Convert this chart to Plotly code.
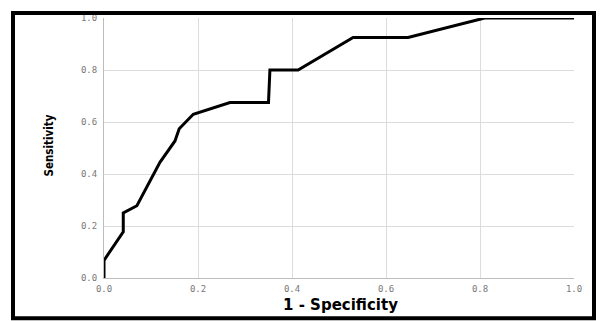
import plotly.graph_objects as go

fpr = [0.0, 0.0, 0.041, 0.041, 0.07, 0.119, 0.151, 0.16, 0.19, 0.268, 0.35, 0.353, 0.413, 0.53, 0.647, 0.81, 1.0]
tpr = [0.0, 0.068, 0.178, 0.25, 0.278, 0.445, 0.527, 0.574, 0.63, 0.675, 0.675, 0.80, 0.80, 0.925, 0.925, 1.0, 1.0]
tick_vals = [0.0, 0.2, 0.4, 0.6, 0.8, 1.0]
tick_text = ["0.0", "0.2", "0.4", "0.6", "0.8", "1.0"]

# page body has an 8px margin, so the figure is drawn offset by (8, 8)
OFF = 8
W, H = 604 - OFF, 321 - OFF
L, R, T, B = 104 - OFF, 30, 13 - OFF, 43
pw, ph = W - L - R, H - T - B

def px(x):
    return (x - OFF - L) / pw

def py(y):
    return (H - B - (y - OFF)) / ph

fig = go.Figure()
fig.add_trace(go.Scatter(x=fpr, y=tpr, mode="lines",
                         line=dict(color="black", width=3), hoverinfo="skip",
                         cliponaxis=False))

tickfont = dict(family="DejaVu Sans Mono", size=9, color="#777777")
fig.update_xaxes(range=[0, 1], tickvals=tick_vals, ticktext=tick_text,
                 showgrid=True, gridcolor="#dcdcdc", gridwidth=1,
                 showline=True, linecolor="#bdbdbd", linewidth=1, mirror=False,
                 zeroline=False, ticks="", tickfont=tickfont, ticklabelstandoff=2)
fig.update_yaxes(range=[0, 1], tickvals=tick_vals, ticktext=tick_text,
                 showgrid=True, gridcolor="#dcdcdc", gridwidth=1,
                 showline=True, linecolor="#bdbdbd", linewidth=1, mirror=False,
                 zeroline=False, ticks="", tickfont=tickfont, ticklabelstandoff=4)

fig.add_annotation(text="<b>Sensitivity</b>", xref="paper", yref="paper",
                   x=px(49), y=py(143), xanchor="center", yanchor="middle",
                   showarrow=False, textangle=-90,
                   font=dict(family="DejaVu Sans Condensed", size=11.5, color="black"))
fig.add_annotation(text="<b>1 - Specificity</b>", xref="paper", yref="paper",
                   x=px(340), y=py(306), xanchor="center", yanchor="middle",
                   showarrow=False,
                   font=dict(family="DejaVu Sans", size=15, color="black"))

fig.add_shape(type="rect", xref="paper", yref="paper",
              x0=px(13), x1=px(594), y0=py(319), y1=py(8),
              line=dict(color="black", width=4), layer="above")

fig.update_layout(width=W, height=H, margin=dict(l=L, r=R, t=T, b=B),
                  paper_bgcolor="white", plot_bgcolor="white", showlegend=False)

fig.write_html("out.html")
